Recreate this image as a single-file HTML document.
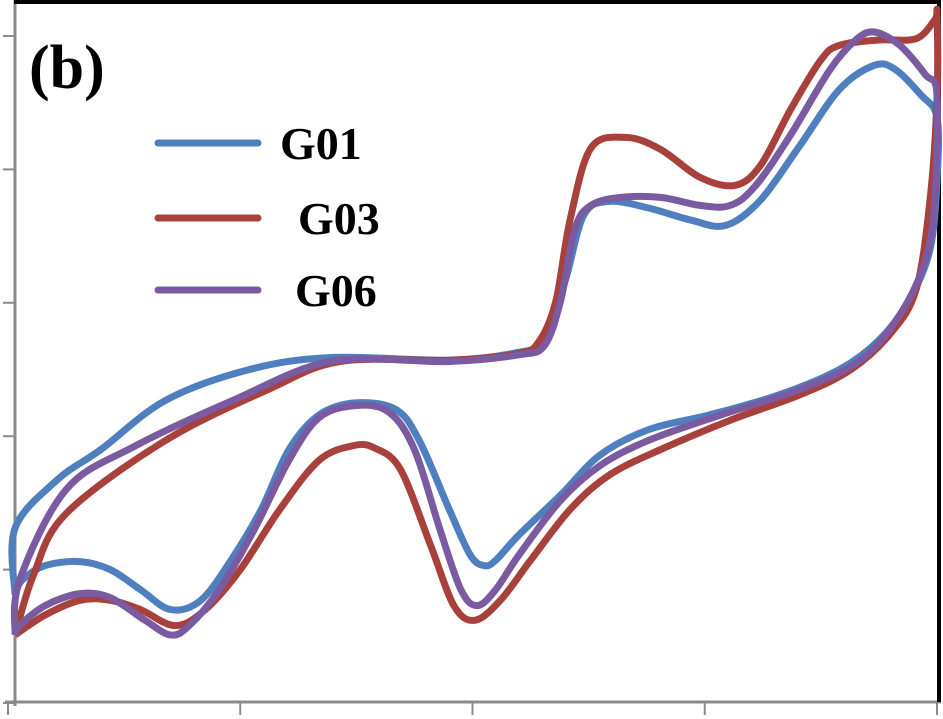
<!DOCTYPE html>
<html><head><meta charset="utf-8"><style>
html,body{margin:0;padding:0;background:#fff;}
svg{display:block;}
</style></head><body>
<svg id="chart" width="943" height="719" viewBox="0 0 943 719" xmlns="http://www.w3.org/2000/svg">
<g id="axes"></g>
<g id="series"></g>
<text x="29" y="88" font-family="Liberation Serif, serif" font-weight="bold" font-size="62" fill="#000">(b)</text>
<g>
<line x1="158" y1="143" x2="258" y2="143" stroke="#4F7FBF" stroke-width="7" stroke-linecap="round"/>
<text x="280" y="159" font-family="Liberation Serif, serif" font-weight="bold" font-size="46">G01</text>
<line x1="158" y1="218" x2="258" y2="218" stroke="#A8403C" stroke-width="7" stroke-linecap="round"/>
<text x="298" y="234" font-family="Liberation Serif, serif" font-weight="bold" font-size="46">G03</text>
<line x1="158" y1="290" x2="258" y2="290" stroke="#7A5AA0" stroke-width="7" stroke-linecap="round"/>
<text x="295" y="306" font-family="Liberation Serif, serif" font-weight="bold" font-size="46">G06</text>
</g>
</svg>
<script>
const xTicks = [0, 1, 2, 3, 4];
const yTicks = [0, 1, 2, 3, 4, 5];
const g01X = [0.03,0.03,0.21,0.40,0.68,1.04,1.39,1.90,2.20,2.31,2.40,2.48,2.59,2.76,2.94,3.09,3.24,3.41,3.58,3.73,3.82,3.93,4.00,4.00,3.97,3.88,3.75,3.58,3.32,3.02,2.76,2.55,2.38,2.20,2.10,2.05,1.99,1.90,1.77,1.67,1.50,1.34,1.21,1.09,0.96,0.83,0.70,0.57,0.44,0.31,0.16,0.06,0.03];
const g01Y = [0.81,1.31,1.67,1.90,2.27,2.50,2.59,2.57,2.63,2.72,3.17,3.66,3.76,3.71,3.62,3.58,3.77,4.18,4.60,4.78,4.75,4.56,4.39,3.92,3.40,3.02,2.72,2.50,2.31,2.16,2.05,1.86,1.56,1.26,1.07,1.03,1.11,1.45,1.97,2.20,2.25,2.16,1.90,1.45,1.07,0.77,0.70,0.85,1.00,1.06,1.03,0.92,0.81];
const g03X = [0.03,0.11,0.25,0.68,1.12,1.43,1.90,2.20,2.29,2.36,2.42,2.51,2.66,2.81,2.98,3.13,3.24,3.37,3.50,3.58,3.75,3.91,3.99,4.00,4.00,3.97,3.91,3.80,3.63,3.41,3.11,2.81,2.59,2.42,2.25,2.12,2.01,1.92,1.82,1.69,1.58,1.49,1.34,1.17,1.00,0.85,0.72,0.57,0.44,0.31,0.16,0.03];
const g03Y = [0.51,0.96,1.42,1.97,2.35,2.56,2.57,2.62,2.72,3.02,3.62,4.16,4.24,4.15,3.94,3.88,4.03,4.45,4.82,4.93,4.97,4.98,5.12,5.16,4.52,3.77,3.10,2.77,2.50,2.31,2.12,1.90,1.71,1.45,1.07,0.77,0.62,0.73,1.18,1.75,1.91,1.93,1.82,1.45,1.00,0.70,0.58,0.70,0.77,0.77,0.66,0.51];
const g06X = [0.03,0.05,0.25,0.54,0.97,1.39,1.90,2.20,2.31,2.38,2.44,2.51,2.64,2.81,2.98,3.11,3.22,3.37,3.54,3.65,3.73,3.84,3.95,4.00,3.99,3.95,3.84,3.67,3.41,3.07,2.76,2.55,2.38,2.20,2.10,2.02,1.95,1.86,1.75,1.64,1.50,1.34,1.21,1.06,0.91,0.78,0.70,0.59,0.44,0.31,0.16,0.05,0.03];
const g06Y = [0.51,0.92,1.60,1.92,2.27,2.56,2.56,2.61,2.68,3.02,3.55,3.73,3.79,3.79,3.73,3.73,3.88,4.26,4.75,4.97,5.03,4.93,4.71,4.56,3.77,3.32,2.91,2.57,2.35,2.16,1.97,1.78,1.52,1.11,0.85,0.73,0.85,1.30,1.90,2.18,2.23,2.14,1.82,1.30,0.85,0.58,0.51,0.62,0.79,0.82,0.73,0.58,0.51];

const NS = 'http://www.w3.org/2000/svg';
function xs(v){ return 8 + v * 232.25; }
function ys(v){ return 703 - v * 133.4; }
function mk(tag, attrs, parent){
  const e = document.createElementNS(NS, tag);
  for (const k in attrs) e.setAttribute(k, attrs[k]);
  parent.appendChild(e);
  return e;
}
const axes = document.getElementById('axes');
let el;
el = mk('line', {x1:15,y1:0,x2:15,y2:706,stroke:'#8a8a8a','stroke-width':3}, axes);


el = mk('line', {x1:5,y1:702,x2:941,y2:702,stroke:'#8a8a8a','stroke-width':3}, axes);


el = mk('line', {x1:14,y1:2,x2:941,y2:2,stroke:'#000','stroke-width':4}, axes);


el = mk('line', {x1:939,y1:0,x2:939,y2:702,stroke:'#000','stroke-width':4}, axes);


yTicks.forEach(t => {
  const e = mk('line', {x1:3,y1:ys(t),x2:15,y2:ys(t),stroke:'#8a8a8a','stroke-width':2}, axes);
  
  
});
xTicks.forEach(t => {
  const e = mk('line', {x1:xs(t),y1:702,x2:xs(t),y2:715,stroke:'#8a8a8a','stroke-width':2}, axes);
  
  
});
function path(X, Y){
  const p = X.map((x,i)=>[xs(x), ys(Y[i])]);
  let d = 'M' + p[0][0] + ',' + p[0][1];
  for (let i=0;i<p.length-1;i++){
    const p0 = p[Math.max(0,i-1)], p1 = p[i], p2 = p[i+1], p3 = p[Math.min(p.length-1,i+2)];
    const c1x = p1[0] + (p2[0]-p0[0])/6, c1y = p1[1] + (p2[1]-p0[1])/6;
    const c2x = p2[0] - (p3[0]-p1[0])/6, c2y = p2[1] - (p3[1]-p1[1])/6;
    d += ' C' + c1x.toFixed(1) + ',' + c1y.toFixed(1) + ' ' + c2x.toFixed(1) + ',' + c2y.toFixed(1) + ' ' + p2[0].toFixed(1) + ',' + p2[1].toFixed(1);
  }
  return d;
}
const sg = document.getElementById('series');
el = mk('path', {d:path(g01X,g01Y),fill:'none',stroke:'#4F7FBF','stroke-width':7,'stroke-linejoin':'round'}, sg);


el = mk('path', {d:path(g03X,g03Y),fill:'none',stroke:'#A8403C','stroke-width':7,'stroke-linejoin':'round'}, sg);


el = mk('path', {d:path(g06X,g06Y),fill:'none',stroke:'#7A5AA0','stroke-width':7,'stroke-linejoin':'round'}, sg);


</script>
</body></html>
